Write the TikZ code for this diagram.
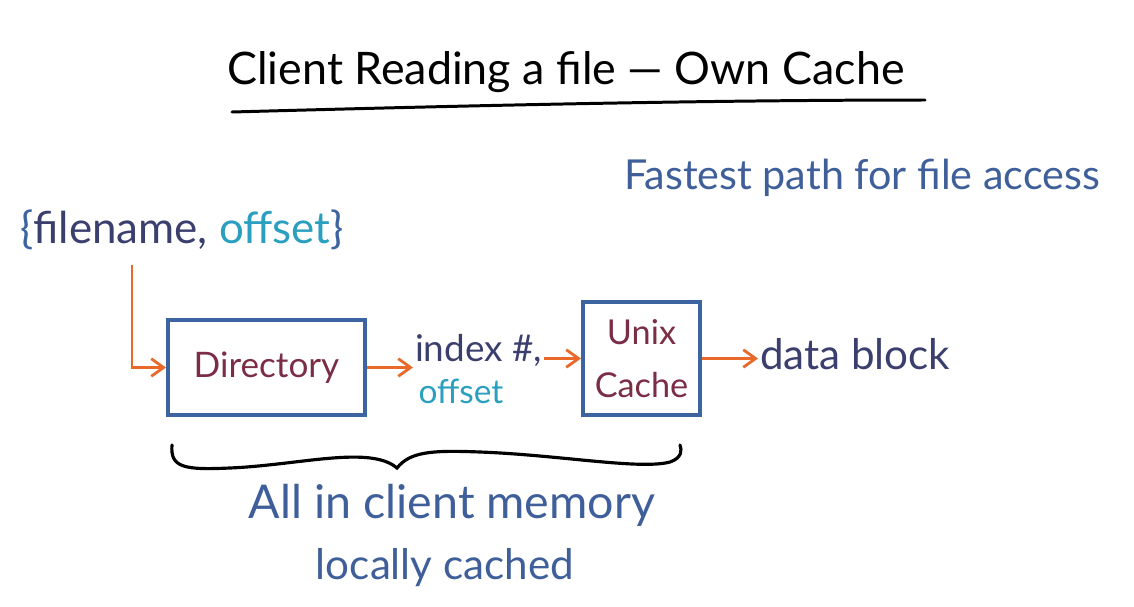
\documentclass[tikz,border=0pt]{standalone}
\usepackage{fontspec}
\setmainfont{Lato}
\usetikzlibrary{arrows.meta,calc}
\definecolor{boxblue}{HTML}{3C64A0}
\definecolor{txtblue}{HTML}{3F5F9A}
\definecolor{navy}{HTML}{3A3F6E}
\definecolor{teal}{HTML}{2B9FBF}
\definecolor{maroon}{HTML}{7B2D45}
\definecolor{orng}{HTML}{E8692A}
\tikzset{
  box/.style={draw=boxblue,line width=2.3pt,inner sep=0pt},
  conn/.style={draw=orng,line width=1.6pt,-{Straight Barb[length=7pt,width=10pt,line width=1.6pt]}},
  lbl/.style={inner sep=1pt},
}
\begin{document}
\begin{tikzpicture}[x=0.02cm,y=-0.02cm]
\useasboundingbox (0,0) rectangle (1134,606);
% title
\node[lbl,font=\fontsize{25.5}{30}\selectfont] (title) at (566,72) {Client Reading a file — Own Cache};
\draw[line width=1.7pt,line cap=round] (232,112) .. controls (450,106) and (700,100) .. (925,100);
\node[lbl,text=txtblue,font=\fontsize{23.5}{28}\selectfont] (fast) at (862,178) {Fastest path for file access};
% input
\node[lbl,font=\fontsize{25}{30}\selectfont] (fo) at (182,230) {\textcolor{boxblue}{\{}\textcolor{navy}{filename,} \textcolor{teal}{offset}\textcolor{boxblue}{\}}};
\coordinate (start) at (132,265);
% boxes
\node[box,minimum width=3.94cm,minimum height=1.9cm,text=maroon,font=\fontsize{20}{24}\selectfont] (dir) at (266.5,367.5) {Directory};
\node[box,minimum width=2.34cm,minimum height=2.26cm,text=maroon,font=\fontsize{19.5}{23}\selectfont,align=center] (unix) at (641.5,358.5) {Unix\\[7pt]Cache};
\node[lbl,text=navy,font=\fontsize{21}{25}\selectfont,anchor=west] (idx) at (413,350) {index \#,};
\node[lbl,text=teal,font=\fontsize{19}{23}\selectfont] (off) at (461,391) {offset};
\node[lbl,text=navy,font=\fontsize{24}{28}\selectfont,anchor=west] (data) at (758,354) {data block};
% connectors
\draw[conn] (start) |- (dir.west);
\draw[conn] (dir.east) -- (idx.west |- dir.east);
\draw[conn] (idx.east |- unix.west) -- (unix.west);
\draw[conn] (unix.east) -- (data.west |- unix.east);
% brace
\coordinate (bl) at (172,445);
\coordinate (btip) at (397,468);
\coordinate (br) at (680,445);
\draw[line width=1.8pt,line cap=round] (bl) .. controls (170,468) and (185,470) .. (230,468)
  .. controls (300,465) and (370,445) .. (btip)
  .. controls (410,452) and (430,450) .. (480,452)
  .. controls (560,455) and (640,470) .. (670,462)
  .. controls (682,458) and (682,450) .. (br);
\node[lbl,text=txtblue,font=\fontsize{26.5}{31}\selectfont] (mem) at (452,505) {All in client memory};
\node[lbl,text=txtblue,font=\fontsize{24}{28}\selectfont] (cached) at (445,568) {locally cached};
\end{tikzpicture}
\end{document}
